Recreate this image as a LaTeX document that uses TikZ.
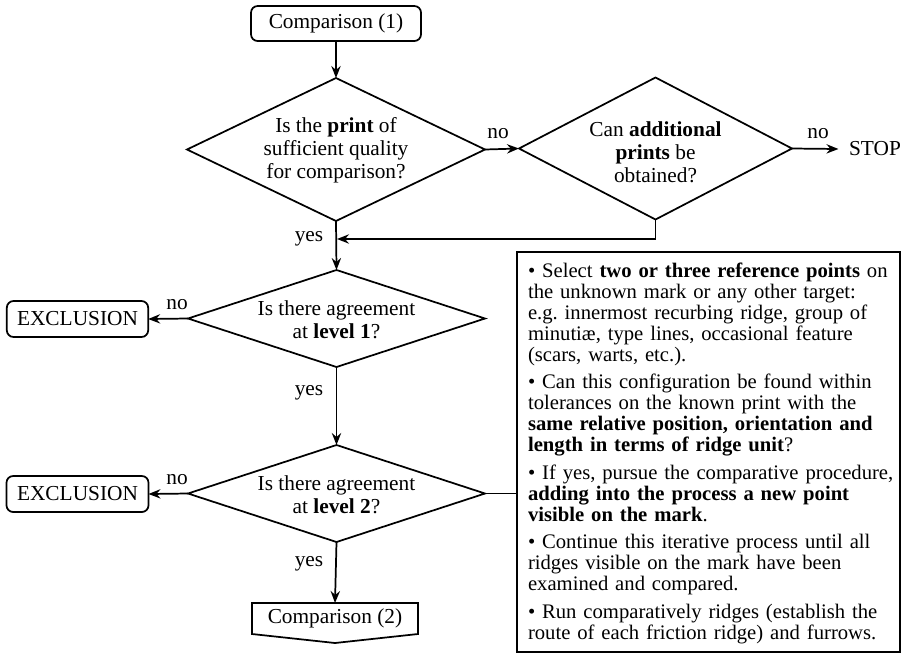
\documentclass[tikz,border=0pt]{standalone}
\usepackage{fontspec}
\setmainfont{Liberation Serif}
\usetikzlibrary{shapes.geometric,arrows.meta,calc}
\begin{document}
\begin{tikzpicture}[x=0.75pt,y=-0.75pt,
  every node/.style={font=\fontsize{16pt}{17.25pt}\selectfont, outer sep=0pt},
  line/.style={line width=1.3pt},
  arr/.style={line, -{Stealth[length=9pt,width=7pt,inset=3pt]}},
  rbox/.style={draw, line width=1.3pt, rounded corners=5pt, inner sep=0pt},
  dia/.style={draw, diamond, line width=1.3pt, inner sep=0pt},
  dtext/.style={align=center, inner sep=0pt},
  lbl/.style={inner sep=0pt}
]
\useasboundingbox (0,0) rectangle (909,654);

% start
\node[rbox, minimum width=127.5pt, minimum height=26.25pt] (c1) at (336,23.5) {Comparison (1)};

% diamond 1
\node[dia, minimum width=223.5pt, minimum height=107.25pt] (d1) at (336,149.5) {};
\node[dtext] (d1t) at (336,150) {Is the \textbf{print} of\\sufficient quality\\for comparison?};

% diamond 2
\node[dia, minimum width=204.75pt, minimum height=106.5pt] (d2) at (655.5,148.5) {};
\node[dtext] (d2t) at (655.5,152) {Can \textbf{additional}\\\textbf{prints} be\\obtained?};

\node[lbl, inner xsep=8pt] (stop) at (875,149) {STOP};

% diamond 3
\node[dia, minimum width=222.75pt, minimum height=72.75pt] (d3) at (336.5,318.5) {};
\node[dtext] (d3t) at (336.5,320) {Is there agreement\\at \textbf{level 1}?};

% diamond 4
\node[dia, minimum width=222.75pt, minimum height=72.75pt] (d4) at (336.5,493.5) {};
\node[dtext] (d4t) at (336.5,495) {Is there agreement\\at \textbf{level 2}?};

% exclusions
\node[rbox, minimum width=106pt, minimum height=27pt] (ex1) at (77.5,319) {EXCLUSION};
\node[rbox, minimum width=106.5pt, minimum height=27pt] (ex2) at (77.5,494) {EXCLUSION};

% comparison 2 (off-page shape)
\node[minimum width=124.5pt, minimum height=23.25pt, inner sep=0pt] (c2) at (335,618.5) {Comparison (2)};
\draw[line, line join=miter] (c2.north west) -- (c2.north east) -- (c2.south east)
  -- ($(c2.south)+(0,9)$) -- (c2.south west) -- cycle;

% right box
\node[draw, line width=1.35pt, minimum width=287.25pt, minimum height=300pt, inner sep=0pt, anchor=north west] (rb) at (517,252) {};
\node[anchor=north west, inner sep=0pt, text width=275pt,
  font=\fontsize{15.5pt}{15.75pt}\selectfont] (rbt) at (528,262.5) {%
  \setlength{\parskip}{4.9pt}\setlength{\parindent}{0pt}\raggedright
  \hangindent=7.5pt\hangafter=1
  \textbullet\ Select \textbf{two or three reference points} on\\
  the unknown mark or any other target:\\
  e.g.\ innermost recurbing ridge, group of\\
  minutiæ, type lines, occasional feature\\
  (scars, warts, etc.).\par
  \hangindent=7.5pt\hangafter=1
  \textbullet\ Can this configuration be found within\\
  tolerances on the known print with the\\
  \textbf{same relative position, orientation and}\\
  \textbf{length in terms of ridge unit}?\par
  \hangindent=7.5pt\hangafter=1
  \textbullet\ If yes, pursue the comparative procedure,\\
  \textbf{adding into the process a new point}\\
  \textbf{visible on the mark}.\par
  \hangindent=7.5pt\hangafter=1
  \textbullet\ Continue this iterative process until all\\
  ridges visible on the mark have been\\
  examined and compared.\par
  \hangindent=7.5pt\hangafter=1
  \textbullet\ Run comparatively ridges (establish the\\
  route of each friction ridge) and furrows.\par};

% connectors
\draw[arr] (c1.south) -- (d1.north);
\draw[arr] (d1.east) -- (d2.west);
\draw[arr] (d2.east) -- (stop.west);
\draw[arr] (d1.south) -- (d3.north);
\coordinate (m) at ($(d1.south)+(1,18)$);
\draw[arr] (d2.south) |- (m);
\draw[arr] (d3.west) -- (ex1.east);
\draw[arr] (d3.south) -- (d4.north);
\draw[arr] (d4.west) -- (ex2.east);
\draw[arr] (d4.south) -- (c2.north);
\draw[line] (d4.east) -- (d4.east -| rb.west);

% labels
\node[lbl] (l1) at (498,134) {no};
\node[lbl] (l2) at (818,134) {no};
\node[lbl] (l3) at (309,239) {yes};
\node[lbl] (l4) at (177,305) {no};
\node[lbl] (l5) at (309,393) {yes};
\node[lbl] (l6) at (177,480) {no};
\node[lbl] (l7) at (309,564) {yes};
\end{tikzpicture}
\end{document}
